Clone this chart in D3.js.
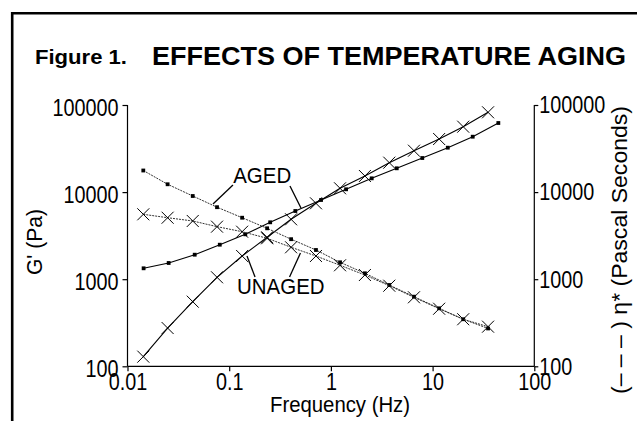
<!DOCTYPE html>
<html>
<head>
<meta charset="utf-8">
<script src="https://cdn.jsdelivr.net/npm/d3@7/dist/d3.min.js"></script>
<style>
  html, body { margin: 0; padding: 0; background: #fff; }
  svg { display: block; }
  text { font-family: "Liberation Sans", Arial, sans-serif; fill: #000; }
</style>
</head>
<body>
<svg id="chart" width="637" height="421"></svg>
<script>
// ---- data ----
const freqAged   = [0.0144,0.0254,0.0458,0.0808,0.144,0.253,0.447,0.800,1.41,2.52,4.44,7.92,14.1,24.8,44.3];
const freqStd    = [0.0143,0.0248,0.0438,0.0759,0.134,0.236,0.406,0.713,1.23,2.16,3.75,6.56,11.6,20.0,35.1];
const gAged      = [1334,1535,1911,2489,3276,4500,6067,8117,10770,14390,18760,24620,32350,43250,62120];
const gUnaged    = [129,275,552,1052,1847,3027,4872,7436,11060,15310,21770,29870,40700,56360,82450];
const etaAged    = [17700,12300,9020,6710,5080,3840,2880,2165,1563,1169,858,630,463,347,272];
const etaUnaged  = [5560,5080,4660,4010,3510,2950,2325,1847,1445,1117,842,620,458,347,285];
const xTicks     = [0.01,0.1,1,10,100];
const xTickLabels= ["0.01","0.1","1","10","100"];
const yTicks     = [100,1000,10000,100000];
const yTickLabels= ["100","1000","10000","100000"];
const titleSmall = "Figure 1.";
const titleBig   = "EFFECTS OF TEMPERATURE AGING";
const xTitle     = "Frequency (Hz)";
const yTitleLeft = "G' (Pa)";
const yTitleRight= "(\u2013 \u2013 \u2013 ) \u03b7* (Pascal Seconds)";
// annotations in data space: label position and leader lines [f1,v1,f2,v2]
const annAged    = {text:"AGED",   f:0.1095, v:12560, leaders:[[0.1089,12060,0.0693,7300],[0.396,11750,0.508,6560]]};
const annUnaged  = {text:"UNAGED", f:0.1194, v:685,   leaders:[[0.1795,1059,0.1496,1845],[0.392,1059,0.502,2000]]};

// ---- layout ----
const svg = d3.select("#chart");
const L = 127.5, R = 534.3, T = 105, B = 366.3;

const x = d3.scaleLog().domain([0.01, 100]).range([L, R]);
const y = d3.scaleLog().domain([100, 100000]).range([B, T]);

function fitWidth(sel, w) {
  sel.attr("textLength", w).attr("lengthAdjust", "spacingAndGlyphs");
}
function condense(sel, k) {
  sel.each(function () {
    const w = this.getComputedTextLength();
    this.setAttribute("textLength", w * k);
    this.setAttribute("lengthAdjust", "spacingAndGlyphs");
  });
}

// frame
svg.append("path")
  .attr("d", `M12.2,421 L12.2,13.2 L637,13.2`)
  .attr("fill", "none").attr("stroke", "#000").attr("stroke-width", 2.6);

// title
const t1 = svg.append("text").attr("x", 35).attr("y", 64)
  .attr("font-size", 19.5).attr("font-weight", "bold").text(titleSmall);
const t2 = svg.append("text").attr("x", 152).attr("y", 65)
  .attr("font-size", 25).attr("font-weight", "bold").text(titleBig);
fitWidth(t1, 92);
fitWidth(t2, 474);

// axes
const fs = 23;
const xAxis = d3.axisBottom(x).tickValues(xTicks)
  .tickFormat((d, i) => xTickLabels[i]).tickSize(5).tickPadding(2);
const gx = svg.append("g").attr("transform", `translate(0,${B})`).call(xAxis);
const yAxisL = d3.axisLeft(y).tickValues(yTicks)
  .tickFormat((d, i) => yTickLabels[i]).tickSize(5).tickPadding(4);
const gyl = svg.append("g").attr("transform", `translate(${L},0)`).call(yAxisL);
const yAxisR = d3.axisRight(y).tickValues(yTicks)
  .tickFormat((d, i) => yTickLabels[i]).tickSize(4).tickPadding(1);
const gyr = svg.append("g").attr("transform", `translate(${R},0)`).call(yAxisR);

[gx, gyl, gyr].forEach(g => {
  g.select(".domain").attr("stroke", "#000").attr("stroke-width", 1.2);
  g.selectAll(".tick line").attr("stroke", "#000").attr("stroke-width", 1.2);
  g.selectAll(".tick text").attr("font-size", fs)
    .attr("font-family", '"Liberation Sans", Arial, sans-serif').attr("fill", "#000");
  condense(g.selectAll(".tick text"), 0.86);
});
gyl.selectAll(".tick text").attr("dy", "0.45em");
gyr.selectAll(".tick text").attr("dy", "0.34em");
gx.selectAll(".tick text").attr("dy", "0.72em");
gx.select(".domain").attr("d", `M${L},0H${R}`);
gyl.select(".domain").attr("d", `M0,${B}V${T}`);
gyr.select(".domain").attr("d", `M0,${B}V${T}`);

// axis titles
const xt = svg.append("text").attr("x", 340).attr("y", 412).attr("text-anchor", "middle")
  .attr("font-size", 22).text(xTitle);
fitWidth(xt, 140);
const lt = svg.append("text").attr("transform", "translate(42,242) rotate(-90)")
  .attr("text-anchor", "middle").attr("font-size", 22).text(yTitleLeft);
fitWidth(lt, 66);
const rt = svg.append("text").attr("transform", "translate(627,250) rotate(-90)")
  .attr("text-anchor", "middle").attr("font-size", 22).text(yTitleRight);
fitWidth(rt, 288);

// series
const line = d3.line().x(d => x(d[0])).y(d => y(d[1]));
const series = [
  {f: freqAged, v: gAged,     marker: "dot",   dash: null,  color: "#000", width: 1.1},
  {f: freqStd,  v: gUnaged,   marker: "cross", dash: null,  color: "#000", width: 1.1},
  {f: freqStd,  v: etaAged,   marker: "dot",   dash: "2,1", color: "#333", width: 1.0},
  {f: freqStd,  v: etaUnaged, marker: "cross", dash: "2,1", color: "#333", width: 1.0}
];
series.forEach(s => {
  const pts = s.f.map((f, i) => [f, s.v[i]]);
  svg.append("path").datum(pts).attr("d", line)
    .attr("fill", "none").attr("stroke", s.color).attr("stroke-width", s.width)
    .attr("stroke-dasharray", s.dash);
  const g = svg.append("g");
  if (s.marker === "dot") {
    g.selectAll("rect").data(pts).join("rect")
      .attr("x", d => x(d[0]) - 1.9).attr("y", d => y(d[1]) - 1.9)
      .attr("width", 3.8).attr("height", 3.8).attr("fill", "#000");
  } else {
    const h = 6;
    g.selectAll("path").data(pts).join("path")
      .attr("d", d => {
        const cx = x(d[0]), cy = y(d[1]);
        return `M${cx-h},${cy-h}L${cx+h},${cy+h}M${cx-h},${cy+h}L${cx+h},${cy-h}`;
      })
      .attr("stroke", "#000").attr("stroke-width", 1).attr("fill", "none");
  }
});

// annotations
[annAged, annUnaged].forEach(a => {
  const tx = svg.append("text").attr("x", x(a.f)).attr("y", y(a.v))
    .attr("font-size", 22).text(a.text);
  condense(tx, 0.93);
  a.leaders.forEach(l => {
    svg.append("line")
      .attr("x1", x(l[0])).attr("y1", y(l[1]))
      .attr("x2", x(l[2])).attr("y2", y(l[3]))
      .attr("stroke", "#000").attr("stroke-width", 1.3);
  });
});
</script>
</body>
</html>
